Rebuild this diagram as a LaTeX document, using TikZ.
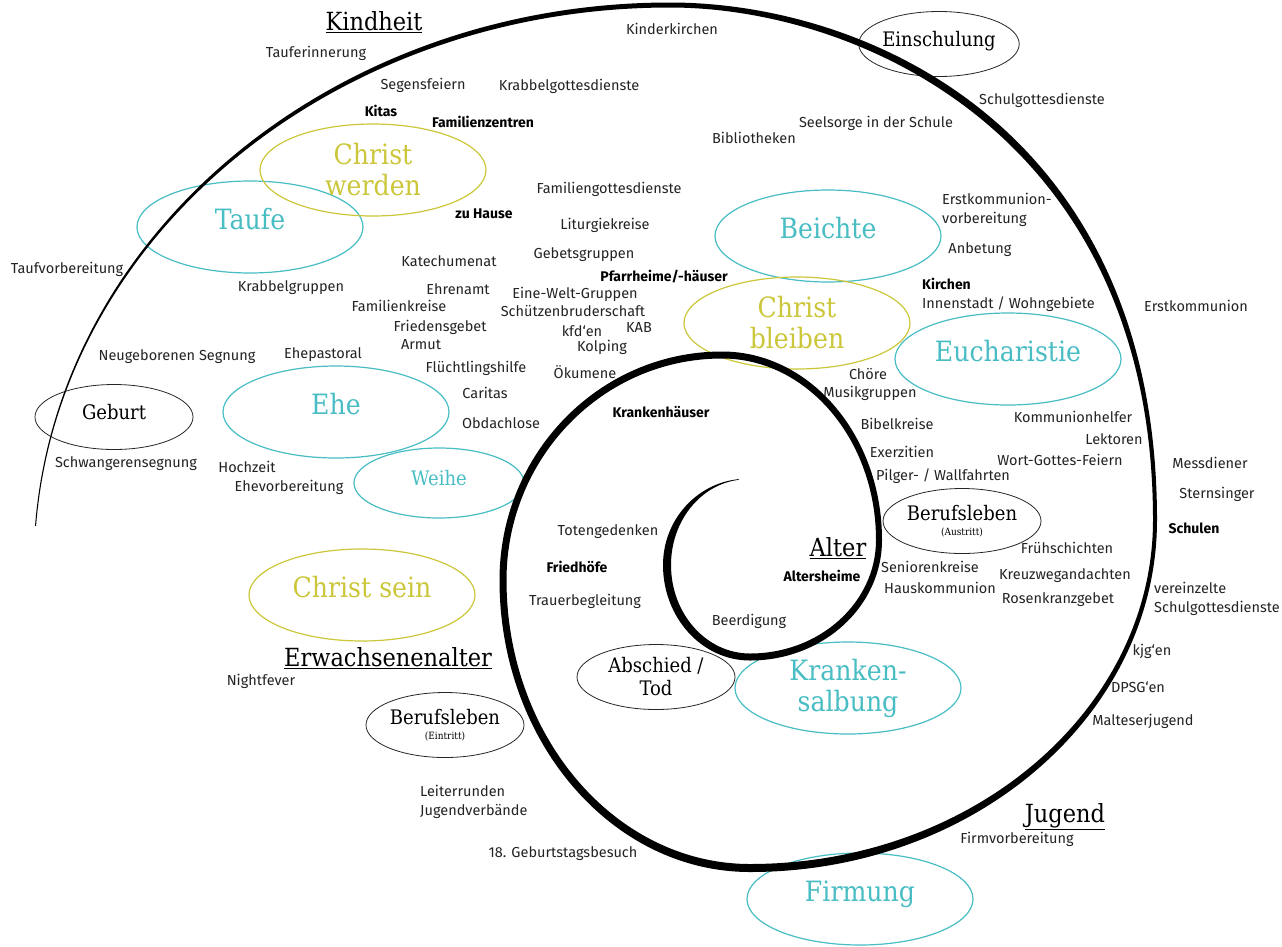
\documentclass[tikz,border=0pt]{standalone}
\usepackage{fontspec}
\setmainfont{Fira Sans}
\newfontfamily\slabfont[FakeStretch=0.9]{DejaVu Serif}
\usepackage{xcolor}
\usetikzlibrary{shapes.geometric, calc}

\definecolor{sacramentteal}{RGB}{72,189,196}
\definecolor{christolive}{RGB}{204,199,58}
\definecolor{itemgray}{RGB}{35,35,35}

\begin{document}
\begin{tikzpicture}[
  x=1pt, y=-1pt,
  sacramentbase/.style={
    ellipse,
    draw=sacramentteal,
    line width=1.2pt,
    text=sacramentteal,
    minimum width=226pt,
    minimum height=92pt,
    inner sep=0pt,
    align=center,
    font=\slabfont\fontsize{28}{31}\selectfont
  },
  sacrament/.style={sacramentbase, text height=4pt, text depth=0pt},
  christbase/.style={sacramentbase, draw=christolive, text=christolive},
  christ/.style={christbase, text height=4pt, text depth=0pt},
  eventbase/.style={
    ellipse,
    draw=black!85,
    line width=0.8pt,
    minimum width=158pt,
    minimum height=65pt,
    inner sep=0pt,
    align=center,
    font=\slabfont\fontsize{20}{23}\selectfont
  },
  event/.style={eventbase, text height=4pt, text depth=0pt},
  phase/.style={inner sep=0pt, font=\slabfont\fontsize{25}{28}\selectfont},
  item/.style={inner sep=0pt, text=itemgray, text height=10pt, text depth=0pt,
    font=\fontsize{14.5}{19.5}\selectfont},
  place/.style={item, text=black, font=\fontsize{14}{19.5}\selectfont\bfseries},
  itemblock/.style={inner sep=0pt, text=itemgray, anchor=west, align=left,
    font=\fontsize{14.5}{19.5}\selectfont}
]
\useasboundingbox (0,0) rectangle (1282,946);
\fill[white] (0,0) rectangle (1282,946);

% sacraments and the three ways of being a Christian
\node[sacrament] (taufe) at (250,227) {Taufe};
\node[sacrament] (beichte) at (828,236) {Beichte};
\node[sacrament] (eucharistie) at (1008,359) {Eucharistie};
\node[sacrament] (ehe) at (336,412) {Ehe};
\node[sacrament, minimum width=170pt, minimum height=70pt,
  font=\slabfont\fontsize{20}{23}\selectfont] (weihe) at (439,483) {Weihe};
\node[sacramentbase] (krankensalbung) at (848,688) {Kranken-\\salbung};
\node[sacrament] (firmung) at (860,899) {Firmung};
\node[christbase] (werden) at (373,170) {Christ\\werden};
\node[christbase] (bleiben) at (797,323) {Christ\\bleiben};
\node[christ] (sein) at (362,595) {Christ sein};

% life events
\node[event] (geburt) at (114,417) {Geburt};
\node[event] (einschulung) at (939,44) {Einschulung};
\node[eventbase] (berufaustritt) at (962,521)
  {Berufsleben\\[-8pt]{\fontsize{10}{10}\selectfont(Austritt)}};
\node[eventbase] (berufeintritt) at (445,725)
  {Berufsleben\\[-8pt]{\fontsize{10}{10}\selectfont(Eintritt)}};
\node[eventbase] (abschied) at (656,677) {Abschied /\\Tod};

% phases of life
\node[phase] (kindheit) at (374,22) {\underline{Kindheit}};
\node[phase] (alter) at (838,548) {\underline{Alter}};
\node[phase] (erwachsenenalter) at (388,658) {\underline{Erwachsenenalter}};
\node[phase] (jugend) at (1065,817) {\underline{Jugend}};

% offers and places
\node[item] (tauferinnerung) at (316,52) {Tauferinnerung};
\node[item] (kinderkirchen) at (672,29) {Kinderkirchen};
\node[item] (segensfeiern) at (423,84) {Segensfeiern};
\node[item] (krabbelgd) at (569,85) {Krabbelgottesdienste};
\node[place] (kitas) at (381,111) {Kitas};
\node[place] (familienzentren) at (483,122) {Familienzentren};
\node[item] (schulgd) at (1042,99) {Schulgottesdienste};
\node[item] (seelsorge) at (876,122) {Seelsorge in der Schule};
\node[item] (bibliotheken) at (754,138) {Bibliotheken};
\node[item] (familiengd) at (609,188) {Familiengottesdienste};
\node[place] (zuhause) at (484,213) {zu Hause};
\node[itemblock] (ekvorbereitung) at (942,210) {Erstkommunion-\\vorbereitung};
\node[item] (liturgiekreise) at (605,224) {Liturgiekreise};
\node[item] (anbetung) at (980,248) {Anbetung};
\node[item] (gebetsgruppen) at (584,253) {Gebetsgruppen};
\node[item] (katechumenat) at (449,261) {Katechumenat};
\node[item] (taufvorbereitung) at (67,268) {Taufvorbereitung};
\node[place] (pfarrheime) at (664,276) {Pfarrheime/-häuser};
\node[place, anchor=west] (kirchen) at (922,284) {Kirchen};
\node[item, anchor=west] (innenstadt) at (922,303) {Innenstadt / Wohngebiete};
\node[item] (erstkommunion) at (1196,306) {Erstkommunion};
\node[item] (krabbelgruppen) at (291,286) {Krabbelgruppen};
\node[item] (ehrenamt) at (458,289) {Ehrenamt};
\node[item] (einewelt) at (575,293) {Eine-Welt-Gruppen};
\node[item] (familienkreise) at (399,306) {Familienkreise};
\node[item] (schuetzen) at (573,311) {Schützenbruderschaft};
\node[item] (friedensgebet) at (440,326) {Friedensgebet};
\node[item] (kfd) at (582,331) {kfd‘en};
\node[item] (kab) at (639,327) {KAB};
\node[item] (armut) at (421,344) {Armut};
\node[item] (kolping) at (602,346) {Kolping};
\node[item] (neugeborenen) at (177,355) {Neugeborenen Segnung};
\node[item] (ehepastoral) at (323,353) {Ehepastoral};
\node[item] (fluechtlinge) at (476,367) {Flüchtlingshilfe};
\node[item] (oekumene) at (585,373) {Ökumene};
\node[item] (choere) at (868,374) {Chöre};
\node[item] (musikgruppen) at (870,392) {Musikgruppen};
\node[item] (caritas) at (485,393) {Caritas};
\node[place] (krankenhaeuser) at (661,412) {Krankenhäuser};
\node[item] (kommunionhelfer) at (1073,417) {Kommunionhelfer};
\node[item] (obdachlose) at (501,423) {Obdachlose};
\node[item] (bibelkreise) at (897,424) {Bibelkreise};
\node[item] (lektoren) at (1114,439) {Lektoren};
\node[item] (exerzitien) at (902,452) {Exerzitien};
\node[item] (wortgottes) at (1060,460) {Wort-Gottes-Feiern};
\node[item] (schwangeren) at (126,462) {Schwangerensegnung};
\node[item] (messdiener) at (1210,463) {Messdiener};
\node[item] (hochzeit) at (247,467) {Hochzeit};
\node[item] (pilger) at (943,475) {Pilger- / Wallfahrten};
\node[item] (ehevorbereitung) at (289,486) {Ehevorbereitung};
\node[item] (sternsinger) at (1217,493) {Sternsinger};
\node[item] (totengedenken) at (608,530) {Totengedenken};
\node[place] (schulen) at (1194,528) {Schulen};
\node[item] (fruehschichten) at (1067,548) {Frühschichten};
\node[place] (friedhoefe) at (577,567) {Friedhöfe};
\node[item] (seniorenkreise) at (930,567) {Seniorenkreise};
\node[place] (altersheime) at (822,576) {Altersheime};
\node[item] (kreuzweg) at (1065,574) {Kreuzwegandachten};
\node[item] (hauskommunion) at (940,588) {Hauskommunion};
\node[itemblock] (vereinzelte) at (1154,599) {vereinzelte\\Schulgottesdienste};
\node[item] (rosenkranz) at (1058,598) {Rosenkranzgebet};
\node[item] (trauer) at (585,600) {Trauerbegleitung};
\node[item] (beerdigung) at (749,620) {Beerdigung};
\node[item] (kjg) at (1152,650) {kjg‘en};
\node[item] (nightfever) at (261,680) {Nightfever};
\node[item] (dpsg) at (1138,687) {DPSG‘en};
\node[item] (malteser) at (1143,720) {Malteserjugend};
\node[itemblock] (leiterrunden) at (420,802) {Leiterrunden\\Jugendverbände};
\node[item] (firmvorbereitung) at (1017,838) {Firmvorbereitung};
\node[item] (geburtstag) at (563,852) {18. Geburtstagsbesuch};

% the spiral of life, outer edge inwards, inner edge back out
\fill[black]
  ($(670,565)+(176:636.5pt and 562.5pt)$)
  arc[start angle=176, end angle=90, x radius=636.5pt, y radius=562.5pt]
  .. controls +(197.2,0) and +(0,-390.7) .. (1157,520)
  arc[start angle=0, end angle=-90, x radius=407pt, y radius=352pt]
  arc[start angle=-90, end angle=-180, x radius=250.5pt, y radius=292pt]
  arc[start angle=180, end angle=90, x radius=222.5pt, y radius=228.5pt]
  arc[start angle=90, end angle=0, x radius=160pt, y radius=188.5pt]
  arc[start angle=0, end angle=-90, x radius=132pt, y radius=120.5pt]
  arc[start angle=-90, end angle=-180, x radius=87pt, y radius=95.5pt]
  arc[start angle=180, end angle=96, x radius=84pt, y radius=86.3pt]
  -- ($(747,565)+(96:76pt and 85.7pt)$)
  arc[start angle=96, end angle=180, x radius=76pt, y radius=85.7pt]
  arc[start angle=-180, end angle=-90, x radius=79pt, y radius=88.5pt]
  arc[start angle=-90, end angle=0, x radius=126pt, y radius=113.5pt]
  arc[start angle=0, end angle=90, x radius=154pt, y radius=181.5pt]
  arc[start angle=90, end angle=180, x radius=215.5pt, y radius=221.5pt]
  arc[start angle=-180, end angle=-90, x radius=243.5pt, y radius=284pt]
  arc[start angle=-90, end angle=0, x radius=403pt, y radius=344pt]
  .. controls +(0,-381.8) and +(190.8,0) .. (670,7.5)
  arc[start angle=90, end angle=176, x radius=635.5pt, y radius=557.5pt]
  -- cycle;
\end{tikzpicture}
\end{document}
